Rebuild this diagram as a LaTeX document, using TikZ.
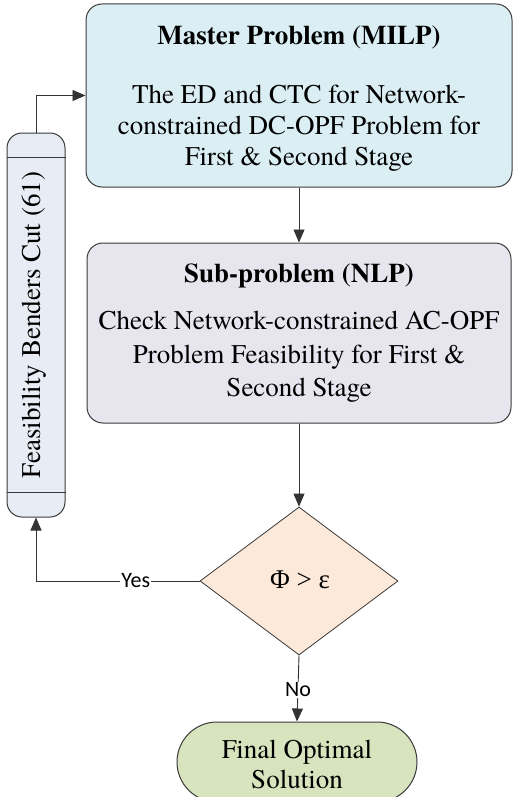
\documentclass[tikz,border=0pt]{standalone}
\usepackage{fontspec}
\setmainfont{texgyretermes}[Extension=.otf, UprightFont=*-regular, BoldFont=*-bold, ItalicFont=*-italic, BoldItalicFont=*-bolditalic]
\newfontfamily\lblfont{Carlito}
\newfontfamily\symfont{Liberation Serif}
\usetikzlibrary{shapes.geometric,arrows.meta}
\definecolor{masterfill}{HTML}{DAEEF3}
\definecolor{subfill}{HTML}{E7E5EE}
\definecolor{diafill}{HTML}{FCE9DA}
\definecolor{finalfill}{HTML}{D7E4BD}
\definecolor{cutfill}{HTML}{E8EDF5}
\definecolor{bordercol}{HTML}{3A3A3A}
\tikzset{
  box/.style={draw=bordercol, line width=1pt, rounded corners=16pt, inner sep=0pt},
  txt/.style={font=\fontsize{27}{33}\selectfont, inner sep=0pt, anchor=base},
  arr/.style={draw=black!80, line width=0.9pt, -{Triangle[length=13pt,width=11pt]}},
  conn/.style={draw=black!80, line width=0.9pt},
  lbl/.style={font=\lblfont\fontsize{22}{24}\selectfont, fill=white, inner sep=1pt}
}
\begin{document}
\begin{tikzpicture}[x=1pt,y=-1pt]
\useasboundingbox (0,0) rectangle (513,797);
\clip (0,0) rectangle (513,797);

% Master problem
\node[box, fill=masterfill, minimum width=426pt, minimum height=183pt] (master) at (299,95.5) {};
\node[txt] (mt) at (299,45) {\bfseries Master Problem (MILP)};
\node[txt] (m1) at (299,103) {The ED and CTC for Network-};
\node[txt] (m2) at (299,134) {constrained DC-OPF Problem for};
\node[txt] (m3) at (299,165) {First \& Second Stage};

% Sub problem
\node[box, fill=subfill, minimum width=424pt, minimum height=180pt] (sub) at (299,333) {};
\node[txt] (st) at (299,282) {\bfseries Sub-problem (NLP)};
\node[txt] (s1) at (299,329) {Check Network-constrained AC-OPF};
\node[txt] (s2) at (299,363) {Problem Feasibility for First \&};
\node[txt] (s3) at (299,396) {Second Stage};

% Decision
\node[diamond, draw=bordercol, line width=0.8pt, fill=diafill, minimum width=198pt, minimum height=148pt, inner sep=0pt] (dia) at (299,581) {};
\node[txt] (dt) at (300,588) {\symfont Φ > ε};

% Final
\node[draw=bordercol, line width=1pt, fill=finalfill, rounded corners=40pt, minimum width=240pt, minimum height=80pt, inner sep=0pt] (final) at (297,762) {};
\node[txt] (f1) at (297,758) {Final Optimal};
\node[txt] (f2) at (297,788) {Solution};

% Feasibility cut
\node[draw=bordercol, line width=1pt, fill=cutfill, rounded corners=15pt, minimum width=58pt, minimum height=384pt, inner sep=0pt] (cut) at (36,325) {};
\draw[bordercol, line width=0.8pt] ([yshift=-25pt]cut.north west) -- ([yshift=-25pt]cut.north east);
\draw[bordercol, line width=0.8pt] ([yshift=25pt]cut.south west) -- ([yshift=25pt]cut.south east);
\node[rotate=90, font=\fontsize{27}{33}\selectfont, inner sep=0pt] (ct) at ([xshift=-2pt]cut.center) {Feasibility Benders Cut (61)};

% Connectors
\draw[arr] (master.south) -- (sub.north);
\draw[arr] (sub.south) -- (dia.north);
\draw[arr] (dia.south) -- node[lbl, pos=0.52] {No} (final.north);
\draw[conn] (dia.west) -- node[lbl, pos=0.39] {Yes} (dia.west -| cut.south);
\draw[arr] (dia.west -| cut.south) -- (cut.south);
\draw[arr] (cut.north) |- (master.west);
\end{tikzpicture}
\end{document}
